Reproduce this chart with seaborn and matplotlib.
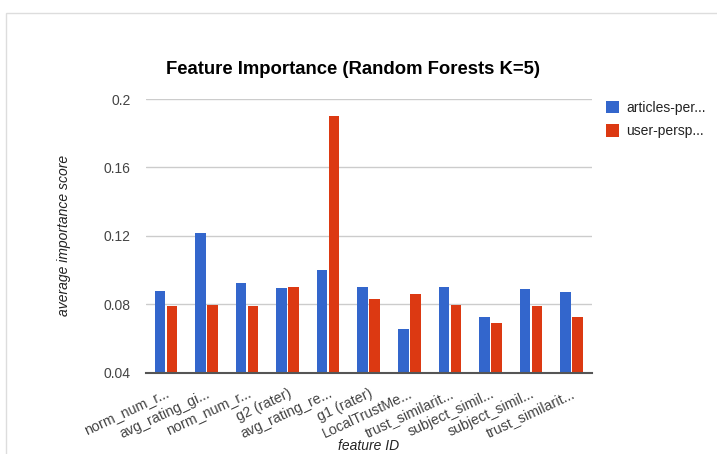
import matplotlib
matplotlib.use("Agg")
import matplotlib.pyplot as plt
from matplotlib.patches import Rectangle
import seaborn as sns
import pandas as pd

# Feature labels as shown on the axis (truncated names)
features = [
    "norm_num_r...", "avg_rating_gi...", "norm_num_r...", "g2 (rater)",
    "avg_rating_re...", "g1 (rater)", "LocalTrustMe...", "trust_similarit...",
    "subject_simil...", "subject_simil...", "trust_similarit...",
]
series_names = ["articles-per...", "user-persp..."]
articles_vals = [0.0880, 0.1217, 0.0923, 0.0894, 0.0999, 0.0901,
                 0.0656, 0.0901, 0.0726, 0.0888, 0.0874]
user_vals = [0.0788, 0.0796, 0.0788, 0.0901, 0.1899, 0.0829,
             0.0858, 0.0796, 0.0691, 0.0788, 0.0726]
y_ticks = [0.04, 0.08, 0.12, 0.16, 0.2]
y_tick_labels = ["0.04", "0.08", "0.12", "0.16", "0.2"]

colors = ["#3366CC", "#DC3912"]

rows = []
for i in range(len(features)):
    rows.append({"idx": i, "series": series_names[0], "score": articles_vals[i]})
    rows.append({"idx": i, "series": series_names[1], "score": user_vals[i]})
df = pd.DataFrame(rows)

sns.set_style("white")
plt.rcParams["font.family"] = ["Liberation Sans", "DejaVu Sans"]

fig = plt.figure(figsize=(7.17, 4.54), dpi=100)
fig.patch.set_facecolor("white")

# light outer frame
fig.patches.append(Rectangle((6 / 717, -0.1), 1.2, 0.1 + 1 - 13 / 454,
                             transform=fig.transFigure, fill=False,
                             edgecolor="#dddddd", linewidth=1))

ax = fig.add_axes([0.2032, 0.1791, 0.6221, 0.6028])
sns.barplot(data=df, x="idx", y="score", hue="series", palette=colors,
            saturation=1, width=0.59, gap=0.12, linewidth=0, ax=ax, zorder=3)

ax.set_ylim(0.04, 0.2)
ax.set_xlim(-0.5, len(features) - 0.5)
ax.set_yticks(y_ticks, y_tick_labels)
ax.yaxis.grid(True, color="#cccccc", linewidth=1)
ax.set_axisbelow(True)
for s in ["top", "right", "left"]:
    ax.spines[s].set_visible(False)
ax.spines["bottom"].set_color("#555555")
ax.spines["bottom"].set_linewidth(1.5)
ax.spines["bottom"].set_zorder(4)

ax.tick_params(axis="y", length=0, pad=11, labelsize=10, labelcolor="#444444")
ax.tick_params(axis="x", length=0, pad=10, labelsize=10.3, labelcolor="#444444")
ax.set_xticks(range(len(features)))
ax.set_xticklabels(features, rotation=25, ha="right", va="top",
                   rotation_mode="anchor")

ax.set_xlabel("")
fig.text(368.7 / 717, 1 - 446 / 454, "feature ID", fontsize=10,
         style="italic", color="#222222", ha="center", va="center")
ax.set_ylabel("average importance score", fontsize=10, style="italic",
              color="#222222", labelpad=23)

fig.text(0.492, 0.848, "Feature Importance (Random Forests K=5)",
         fontsize=13.3, fontweight="bold", ha="center", va="center",
         color="black")

handles, labels = ax.get_legend_handles_labels()
ax.legend(handles, labels, loc="upper left", bbox_to_anchor=(1.003, 1.04),
          frameon=False, fontsize=10, handlelength=1.0, handleheight=1.0,
          handletextpad=0.5, labelspacing=0.7, labelcolor="#222222")

fig.savefig("out.png", dpi=100, facecolor="white")
